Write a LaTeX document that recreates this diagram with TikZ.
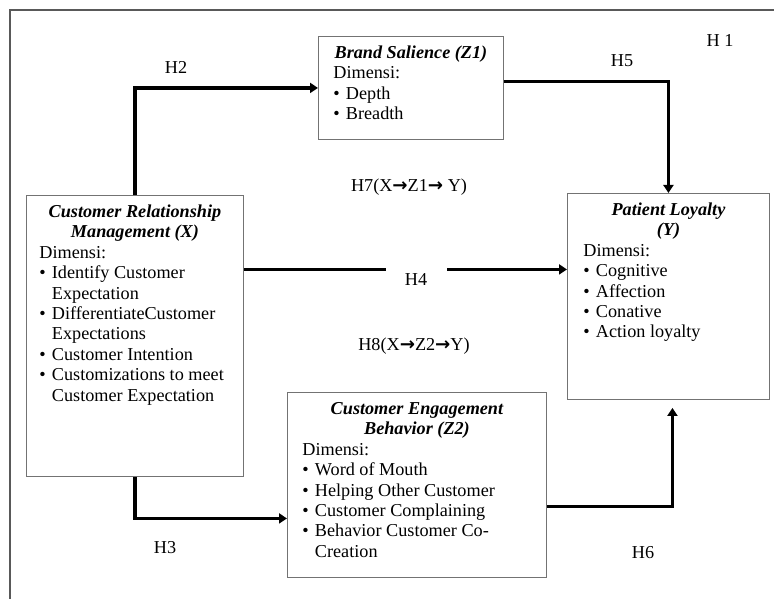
\documentclass[tikz,border=0pt]{standalone}
\usepackage{fontspec}
\setmainfont{Liberation Serif}
\newfontfamily\arrowfont{DejaVu Sans}
\usetikzlibrary{arrows.meta,positioning}

\newcommand{\boxbody}[3]{\parbox[c][#2][t]{#1}{#3}}
\newcommand{\ttl}[1]{\makebox[\linewidth]{\bfseries\itshape\rule{0pt}{22pt}#1}\par}
\newcommand{\ttlb}[1]{\makebox[\linewidth]{\bfseries\itshape #1}\par}
\newcommand{\itm}[1]{\par\hangindent=12.5pt\hangafter=1\makebox[12.5pt][l]{\textbullet}#1}
\newcommand{\rar}{{\arrowfont\bfseries →}}

\begin{document}
\begin{tikzpicture}[x=1pt,y=-1pt,
  font=\fontsize{18.2}{20.4}\selectfont,
  concept/.style={draw=black!55, line width=0.9pt, anchor=north west, inner xsep=15pt, inner ysep=0pt},
  link/.style={line width=3.2pt, -{Triangle[length=8pt,width=10pt]}},
  hyp/.style={anchor=base, inner sep=0pt}]
\useasboundingbox (0,0) rectangle (774,599);
\draw[black!65, line width=1.3pt] (10,599) -- (10,10) -- (774,10);

\node[concept] (bs) at (318,36) {\boxbody{155pt}{103pt}{\ttl{Brand Salience (Z1)}Dimensi:\itm{Depth}\itm{Breadth}}};
\node[concept, inner xsep=13pt] (crm) at (26,195) {\boxbody{191pt}{281pt}{\ttl{Customer Relationship}\ttlb{Management (X)}Dimensi:\itm{Identify Customer\newline Expectation}\itm{DifferentiateCustomer\newline Expectations}\itm{Customer Intention}\itm{Customizations to meet\newline Customer Expectation}}};
\node[concept, inner xsep=16pt] (pl) at (567,193) {\boxbody{170pt}{206pt}{\ttl{Patient Loyalty}\ttlb{(Y)}Dimensi:\itm{Cognitive}\itm{Affection}\itm{Conative}\itm{Action loyalty}}};
\node[concept] (ceb) at (287,392) {\boxbody{229pt}{185pt}{\ttl{Customer Engagement}\ttlb{Behavior (Z2)}Dimensi:\itm{Word of Mouth}\itm{Helping Other Customer}\itm{Customer Complaining}\itm{Behavior Customer Co-\newline Creation}}};

\draw[link] (crm.north) |- (bs.west);
\draw[link] ([yshift=6.5pt]bs.east) -| (pl.north);
\draw[link] (crm.east) ++(0,-66.5) coordinate (h4a) -- (h4a -| pl.west);
\draw[link] (crm.south) |- ([yshift=-33.5pt]ceb.west);
\draw[link] ([yshift=-21.5pt]ceb.east) -| ([shift={(4pt,-8pt)}]pl.south);

\node[fill=white, minimum width=61pt, minimum height=30pt] (h4box) at (416,280) {};
\node[hyp] (h4) at (416,285) {H4};
\node[hyp] (h1) at (720,47) {H 1};
\node[hyp] (h2) at (176,74) {H2};
\node[hyp] (h5) at (622,67) {H5};
\node[hyp] (h7) at (409,192) {H7(X\rar Z1\rar\ Y)};
\node[hyp] (h8) at (414,350) {H8(X\rar Z2\rar Y)};
\node[hyp] (h3) at (165,553) {H3};
\node[hyp] (h6) at (643,558) {H6};
\end{tikzpicture}
\end{document}
